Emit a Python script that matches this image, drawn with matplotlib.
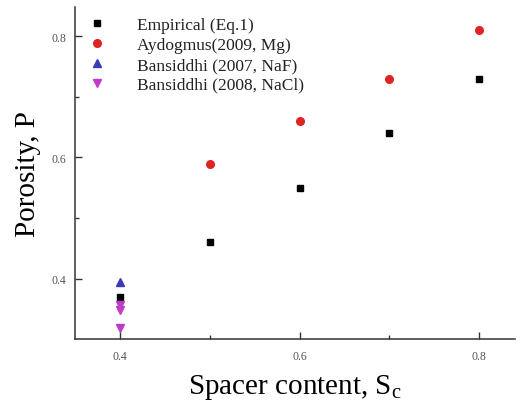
import matplotlib
matplotlib.use("Agg")
import matplotlib.pyplot as plt
from matplotlib.ticker import MultipleLocator

plt.rcParams['font.family'] = ['Liberation Serif', 'DejaVu Serif']
plt.rcParams['mathtext.fontset'] = 'custom'
plt.rcParams['mathtext.rm'] = 'Liberation Serif'

# data
emp_x = [0.4, 0.5, 0.6, 0.7, 0.8]
emp_y = [0.37, 0.46, 0.55, 0.64, 0.73]
ayd_x = [0.5, 0.6, 0.7, 0.8]
ayd_y = [0.59, 0.66, 0.73, 0.81]
naf_x = [0.4]
naf_y = [0.395]
nacl_x = [0.4, 0.4, 0.4]
nacl_y = [0.357, 0.349, 0.319]

fig = plt.figure(figsize=(5.22, 4.10), dpi=100)
ax = fig.add_axes([0.1437, 0.1707, 0.843, 0.81])

ax.plot(emp_x, emp_y, 's', color='black', ms=5, ls='none', label='Empirical (Eq.1)')
ax.plot(ayd_x, ayd_y, 'o', color='#e02424', ms=5.5, ls='none', label='Aydogmus(2009, Mg)')
ax.plot(naf_x, naf_y, '^', color='#3b3bb5', ms=6, ls='none', label='Bansiddhi (2007, NaF)')
ax.plot(nacl_x, nacl_y, 'v', color='#c03cc8', ms=6, ls='none', label='Bansiddhi (2008, NaCl)')

ax.set_xlim(0.35, 0.84)
ax.set_ylim(0.301, 0.848)
ax.xaxis.set_major_locator(MultipleLocator(0.2))
ax.xaxis.set_minor_locator(MultipleLocator(0.1))
ax.yaxis.set_major_locator(MultipleLocator(0.2))
ax.yaxis.set_minor_locator(MultipleLocator(0.1))

ax.spines['top'].set_visible(False)
ax.spines['right'].set_visible(False)
for s in ('left', 'bottom'):
    ax.spines[s].set_color('#333333')
    ax.spines[s].set_linewidth(1.1)

ax.tick_params(which='both', direction='in', colors='#333333', labelsize=8.5,
               labelcolor='#555555')
ax.tick_params(which='major', length=5, width=1)
ax.tick_params(which='minor', length=3, width=1)
ax.tick_params(axis='x', pad=8)
ax.tick_params(axis='y', pad=6)

ax.set_xlabel(r'Spacer content, S$_\mathregular{c}$', fontsize=21, labelpad=7)
ax.set_ylabel('Porosity, P', fontsize=21, labelpad=8)

ax.legend(loc='upper left', bbox_to_anchor=(-0.012, 1.012), frameon=False, fontsize=12.5,
          handletextpad=1.6, labelspacing=0.22, borderpad=0.3, handlelength=1.5,
          labelcolor='#222222')

fig.savefig('out.png', dpi=100)
